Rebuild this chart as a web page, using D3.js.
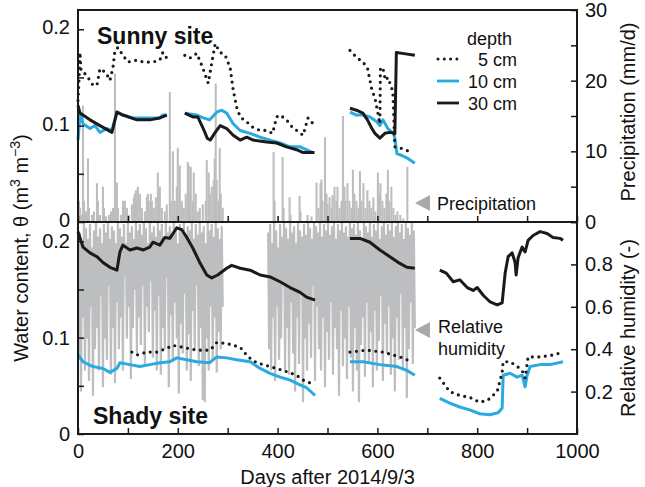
<!DOCTYPE html>
<html>
<head>
<meta charset="utf-8">
<script src="https://cdn.jsdelivr.net/npm/d3@7"></script>
<style>
  body { margin: 0; background: #fff; }
  text { font-family: "Liberation Sans", Arial, sans-serif; fill: #111; }
</style>
</head>
<body>
<svg id="chart" width="645" height="487"></svg>
<script>
// ---- data ----
// water content, [day, theta]; null = gap in record
const sunny5 = [[0,0.126],[2,0.147],[4,0.176],[6,0.157],[12,0.155],[20,0.15],[30,0.142],[38,0.142],[44,0.159],[56,0.155],[64,0.147],[70,0.16],[74,0.178],[80,0.181],[90,0.173],[100,0.166],[118,0.168],[131,0.166],[150,0.166],[164,0.168],[170,0.176],[178,0.17],null,
  [214,0.173],[224,0.17],[238,0.175],[250,0.16],[261,0.144],[268,0.165],[275,0.185],[285,0.176],[295,0.173],[305,0.16],[311,0.137],[318,0.119],[325,0.109],[338,0.104],[351,0.098],[365,0.095],[378,0.095],[390,0.092],[398,0.109],[405,0.111],[418,0.106],[430,0.098],[444,0.093],[451,0.09],[461,0.108],[471,0.102],null,
  [545,0.178],[558,0.171],[571,0.166],[580,0.16],[589,0.137],[595,0.129],[601,0.113],[605,0.102],[606,0.16],[611,0.16],[616,0.147],[621,0.15],[628,0.14],[631,0.135],[635,0.078],[645,0.077],[660,0.074],[671,0.072]];
const sunny10 = [[0,0.085],[2,0.098],[4,0.113],[10,0.102],[24,0.097],[34,0.1],[44,0.093],[58,0.097],[68,0.095],[78,0.114],[90,0.111],[110,0.108],[131,0.108],[150,0.108],[164,0.108],[170,0.111],[178,0.111],null,
  [214,0.113],[238,0.111],[251,0.108],[264,0.106],[278,0.114],[288,0.116],[298,0.113],[311,0.102],[325,0.095],[345,0.092],[365,0.088],[385,0.085],[405,0.082],[425,0.078],[445,0.078],[471,0.072],null,
  [545,0.114],[558,0.111],[571,0.111],[585,0.109],[599,0.104],[605,0.1],[611,0.106],[621,0.097],[632,0.092],[635,0.087],[639,0.071],[649,0.069],[661,0.066],[675,0.061]];
const sunny30 = [[0,0.121],[4,0.113],[24,0.106],[44,0.1],[68,0.093],[78,0.114],[90,0.111],[118,0.106],[144,0.106],[164,0.108],[178,0.111],null,
  [214,0.113],[230,0.109],[240,0.109],[251,0.097],[259,0.087],[265,0.085],[275,0.093],[285,0.1],[298,0.097],[311,0.09],[325,0.085],[338,0.088],[351,0.085],[378,0.083],[398,0.082],[418,0.078],[438,0.075],[451,0.072],[474,0.072],null,
  [545,0.118],[558,0.116],[571,0.113],[580,0.106],[589,0.097],[595,0.092],[605,0.087],[615,0.092],[625,0.093],[635,0.092],[638,0.176],[650,0.175],[675,0.173]];

const shady5 = [[108,0.085],[118,0.082],[138,0.085],[158,0.085],[178,0.089],[190,0.092],[210,0.09],[238,0.087],[264,0.087],[274,0.092],[278,0.095],[298,0.094],[325,0.09],[341,0.08],[358,0.074],[385,0.07],[411,0.066],[438,0.061],[451,0.056],[465,0.053],null,
  [545,0.085],[579,0.087],[611,0.085],[645,0.08],[669,0.075],null,
  [725,0.058],[745,0.044],[765,0.04],[785,0.038],[805,0.033],[821,0.035],[840,0.044],[850,0.064],[852,0.075],[866,0.075],[886,0.068],[892,0.064],[896,0.058],[902,0.08],[926,0.08],[952,0.082],[966,0.084]];
const shady10 = [[0,0.082],[10,0.075],[30,0.07],[50,0.068],[64,0.064],[78,0.068],[84,0.074],[104,0.072],[124,0.07],[144,0.072],[164,0.074],[184,0.075],[198,0.079],[218,0.077],[238,0.075],[264,0.074],[278,0.08],[298,0.079],[318,0.077],[345,0.075],[365,0.068],[385,0.063],[405,0.059],[425,0.056],[445,0.051],[458,0.048],[475,0.04],null,
  [545,0.075],[571,0.075],[605,0.072],[639,0.07],[659,0.066],[675,0.061],null,
  [725,0.037],[745,0.032],[765,0.028],[785,0.025],[805,0.021],[825,0.02],[842,0.022],[850,0.027],[852,0.061],[866,0.063],[880,0.059],[890,0.061],[896,0.049],[900,0.061],[906,0.07],[926,0.072],[946,0.072],[972,0.075]];
const shady30 = [[0,0.21],[10,0.194],[24,0.188],[38,0.184],[50,0.178],[64,0.173],[78,0.17],[84,0.189],[90,0.196],[104,0.191],[118,0.193],[131,0.191],[144,0.194],[150,0.199],[164,0.196],[174,0.204],[184,0.203],[198,0.214],[208,0.212],[218,0.204],[230,0.193],[244,0.178],[258,0.165],[268,0.162],[280,0.165],[298,0.172],[308,0.175],[325,0.172],[345,0.17],[365,0.165],[385,0.163],[405,0.158],[425,0.152],[445,0.147],[458,0.142],[475,0.139],null,
  [545,0.203],[565,0.203],[585,0.199],[605,0.191],[625,0.184],[645,0.177],[659,0.173],[675,0.172],null,
  [725,0.17],[738,0.167],[752,0.158],[765,0.16],[780,0.152],[792,0.149],[800,0.152],[812,0.144],[826,0.137],[840,0.134],[850,0.136],[856,0.167],[862,0.184],[870,0.188],[876,0.178],[878,0.165],[882,0.183],[890,0.194],[896,0.189],[902,0.201],[912,0.206],[926,0.21],[940,0.208],[952,0.204],[966,0.203],[972,0.201]];

// daily precipitation (mm/d), [day, mm]
const precip = [[0,4.5],[2,3],[4,2],[6,1],[10,16.5],[12,3],[16,1.5],[20,9],[22,2],[28,1],[32,1.5],[38,5.5],[40,3],[44,1],[50,5],[52,2],[56,0.8],[62,1],[66,1.5],[70,2],[74,21],[76,4],[78,5.6],[80,2],[86,1],[90,3],[92,2.5],[94,3],[98,2],[102,1],[108,2.5],[112,3.5],[114,4],[116,4.5],[118,3],[120,5],[124,4],[128,2],[134,1.5],[138,3.5],[140,4],[142,3],[146,4],[148,3],[152,2],[156,3.5],[160,7],[162,4],[164,5],[168,2],[174,1.5],[178,2.5],[184,18.4],[186,3],[190,10],[194,3],[198,5],[200,10.5],[204,8],[208,3],[212,2],[216,4],[220,8.5],[222,8],[224,4.5],[226,7.8],[230,3],[232,7],[236,4],[240,1.5],[244,2],[250,2.5],[256,3],[258,8.8],[262,7],[264,4],[268,5],[272,6],[274,9],[276,19.6],[278,6],[282,3],[284,10.5],[286,4],[290,2],
  [392,9.9],[394,3],[410,9.2],[412,2],[424,3.5],[426,1],[444,3.7],[446,1.5],[460,1],[468,0.8],
  [478,5.6],[482,2],[486,5.5],[488,6],[490,3],[495,12],[498,4],[500,2.5],[504,3.5],[508,2],[510,3.8],[514,5],[518,3],[520,5],[524,2],[528,3],[531,15],[534,5],[536,3],[540,5.5],[544,3],[548,2],[551,7.4],[554,4],[558,3],[562,2],[565,7.2],[568,3],[572,5.5],[576,2],[580,4.5],[584,3],[588,2],[592,3.5],[596,1.5],[601,7],[604,4],[606,5.5],[610,3],[614,2],[618,4],[621,7.4],[624,3],[628,5],[632,2],[636,1],[640,1.5],[646,1],[652,0.5],[660,7.8]];

// relative humidity (-), every 2nd day from the start day of each record block
const rhStartA = 0;
const rhA = [0.98,0.35,0.95,0.2,0.9,0.55,1.0,0.3,0.97,0.45,0.92,0.25,0.99,0.6,0.88,0.18,0.96,0.4,1.0,0.5,0.93,
  0.3,0.97,0.65,0.9,0.22,0.99,0.45,0.95,0.35,1.0,0.7,0.92,0.28,0.98,0.5,0.96,0.24,0.9,0.62,1.0,
  0.4,0.97,0.55,0.93,0.3,0.99,0.75,0.9,0.45,1.0,0.6,0.95,0.26,0.98,0.5,0.92,0.68,1.0,0.38,0.96,
  0.55,0.99,0.42,0.94,0.7,1.0,0.33,0.97,0.6,0.9,0.48,1.0,0.72,0.95,0.36,0.98,0.58,0.93,0.3,1.0,
  0.65,0.96,0.28,0.99,0.5,0.92,0.4,1.0,0.74,0.95,0.22,0.98,0.56,0.94,0.34,1.0,0.62,0.97,0.45,0.9,
  0.19,0.99,0.52,0.95,0.38,1.0,0.66,0.93,0.3,0.98,0.47,0.96,0.25,1.0,0.58,0.92,0.4,0.99,0.7,0.94,
  0.32,1.0,0.5,0.95,0.16,0.98,0.15,0.9,0.45,1.0,0.3,0.96,0.6,0.99,0.35,0.93,0.55,1.0,0.29,0.97,0.48,0.92,0.4,0.98,0.6];
const rhStartB = 381;
const rhB = [0.95,0.4,0.99,0.3,0.9,0.55,1.0,0.25,0.96,0.6,0.88,0.35,0.99,0.45,0.93,0.7,1.0,0.3,0.97,0.5,
  0.92,0.28,1.0,0.62,0.95,0.38,0.98,0.2,0.9,0.55,1.0,0.33,0.96,0.66,0.93,0.15,0.99,0.45,0.94,0.3,
  1.0,0.52,0.97,0.36,0.92,0.7,1.0,0.25,0.98,0.6,0.95,0.4,1.0,0.3,0.93,0.55,0.99,0.22,0.96,0.48,
  1.0,0.35,0.94,0.62,0.98,0.28,1.0,0.5,0.92,0.4,0.99,0.18,0.96,0.58,1.0,0.32,0.95,0.45,0.98,0.26,
  0.93,0.6,1.0,0.36,0.97,0.2,0.99,0.5,0.94,0.3,1.0,0.15,0.96,0.42,0.92,0.55,1.0,0.27,0.98,0.62,
  0.95,0.34,1.0,0.48,0.93,0.22,0.99,0.58,0.96,0.3,1.0,0.44,0.92,0.65,0.98,0.25,1.0,0.52,0.94,0.38,
  0.99,0.6,0.96,0.28,1.0,0.45,0.93,0.2,0.98,0.55,1.0,0.35,0.95,0.66,0.99,0.3,0.92,0.5,1.0,0.17,0.97,0.4,0.94,0.62,1.0,0.33,0.96,0.5];

const dayTicks = [0,100,200,300,400,500,600,700,800,900,1000];
const dayLabels = [0,200,400,600,800,1000];
const thetaTicks = [0,0.05,0.1,0.15,0.2];
const thetaLabels = [0,0.1,0.2];
const precipTicks = [0,5,10,15,20,25,30];
const precipLabels = [0,10,20,30];
const rhTicks = [0.2,0.4,0.6,0.8,1.0];
const rhLabels = [0.2,0.4,0.6,0.8];
const depths = ["5 cm","10 cm","30 cm"];

// ---- layout ----
const svg = d3.select("#chart");
const plotL = 78, plotR = 577, plotT = 10, plotM = 222, plotB = 434;
const gray = "#bdbec0", blue = "#29aae1", black = "#1a1a1a";

const x = d3.scaleLinear().domain([0,1000]).range([plotL,plotR]);
const yTop = d3.scaleLinear().domain([0,0.22]).range([plotM,plotT]);
const yBot = d3.scaleLinear().domain([0,0.22]).range([plotB,plotM]);
const yPrec = d3.scaleLinear().domain([0,30]).range([plotM,plotT]);
const yRH = d3.scaleLinear().domain([0,1]).range([plotB,plotM]);

// precipitation bars
svg.append("g").selectAll("line").data(precip).join("line")
  .attr("x1", d => x(d[0])).attr("x2", d => x(d[0]))
  .attr("y1", yPrec(0)).attr("y2", d => yPrec(d[1]))
  .attr("stroke", gray).attr("stroke-width", 2.1);

// relative humidity trace
const rhLine = d3.line().x(d => x(d[0])).y(d => yRH(d[1]));
[[rhStartA, rhA],[rhStartB, rhB]].forEach(([s, vals]) => {
  svg.append("path")
    .datum(vals.map((v,i) => [s + i*2, v]))
    .attr("d", rhLine)
    .attr("fill", "none").attr("stroke", gray).attr("stroke-width", 2.2);
});

// water content lines
function drawTheta(data, y, style) {
  const line = d3.line().defined(d => d !== null).x(d => x(d[0])).y(d => y(d[1]));
  const p = svg.append("path").datum(data).attr("d", line).attr("fill", "none");
  if (style === 5) {
    p.attr("stroke", black).attr("stroke-width", 3.2).attr("stroke-linecap", "round")
     .attr("stroke-dasharray", "0,6.5");
  } else {
    p.attr("stroke", style === 10 ? blue : black).attr("stroke-width", 3)
     .attr("stroke-linejoin", "round");
  }
}
drawTheta(sunny10, yTop, 10);
drawTheta(sunny30, yTop, 30);
drawTheta(sunny5, yTop, 5);
drawTheta(shady10, yBot, 10);
drawTheta(shady30, yBot, 30);
drawTheta(shady5, yBot, 5);

// frame
svg.append("rect").attr("x", plotL).attr("y", plotT).attr("width", plotR-plotL).attr("height", plotB-plotT)
  .attr("fill", "none").attr("stroke", black).attr("stroke-width", 2);
svg.append("line").attr("x1", plotL).attr("x2", plotR).attr("y1", plotM).attr("y2", plotM)
  .attr("stroke", black).attr("stroke-width", 2);

// axes
function styleAxis(g) {
  g.select(".domain").remove();
  g.selectAll(".tick line").attr("stroke", black).attr("stroke-width", 1.5);
  g.selectAll(".tick text").style("font-size", "20px").attr("fill", "#111");
}
const fmt = labels => d => labels.includes(d) ? (d === 0 ? "0" : String(+d.toFixed(1))) : "";

svg.append("g").attr("transform", `translate(0,${plotM})`)
  .call(d3.axisBottom(x).tickValues(dayTicks).tickSize(-6).tickFormat(""))
  .call(styleAxis);
svg.append("g").attr("transform", `translate(0,${plotB})`)
  .call(d3.axisBottom(x).tickValues(dayTicks).tickSize(-6).tickPadding(10).tickFormat(fmt(dayLabels)))
  .call(styleAxis);

svg.append("g").attr("transform", `translate(${plotL},-2)`)
  .call(d3.axisLeft(yTop).tickValues(thetaTicks).tickSize(-6).tickPadding(8).tickFormat(fmt(thetaLabels)))
  .call(styleAxis)
  .call(g => g.selectAll(".tick line").attr("transform", "translate(0,2)"));
svg.append("g").attr("transform", `translate(${plotL},0)`)
  .call(d3.axisLeft(yBot).tickValues(thetaTicks).tickSize(-6).tickPadding(8).tickFormat(fmt(thetaLabels)))
  .call(styleAxis);

svg.append("g").attr("transform", `translate(${plotR},0)`)
  .call(d3.axisRight(yPrec).tickValues(precipTicks).tickSize(-6).tickPadding(8).tickFormat(fmt(precipLabels)))
  .call(styleAxis);
svg.append("g").attr("transform", `translate(${plotR},0)`)
  .call(d3.axisRight(yRH).tickValues(rhTicks).tickSize(-6).tickPadding(8).tickFormat(fmt(rhLabels)))
  .call(styleAxis);

// axis titles
svg.append("text").attr("x", (plotL+plotR)/2).attr("y", 484).attr("text-anchor", "middle")
  .style("font-size", "20px").text("Days after 2014/9/3");

const yl = svg.append("text").attr("transform", "translate(28,248) rotate(-90)")
  .attr("text-anchor", "middle").style("font-size", "20px");
yl.append("tspan").text("Water content, θ (m");
yl.append("tspan").attr("dy", -8).style("font-size", "14px").text("3");
yl.append("tspan").attr("dy", 8).text(" m");
yl.append("tspan").attr("dy", -8).style("font-size", "14px").text("−3");
yl.append("tspan").attr("dy", 8).text(")");

svg.append("text").attr("transform", "translate(635,112) rotate(-90)")
  .attr("text-anchor", "middle").style("font-size", "20px").text("Precipitation (mm/d)");
svg.append("text").attr("transform", "translate(635,328) rotate(-90)")
  .attr("text-anchor", "middle").style("font-size", "20px").text("Relative humidity (-)");

// panel titles
svg.append("text").attr("x", 97).attr("y", 44).style("font-size", "23px").style("font-weight", "bold").text("Sunny site");
svg.append("text").attr("x", 93).attr("y", 424).style("font-size", "23px").style("font-weight", "bold").text("Shady site");

// legend
svg.append("text").attr("x", 512).attr("y", 45).attr("text-anchor", "end").style("font-size", "18px").text("depth");
depths.forEach((d, i) => {
  const yy = 59 + i * 22;
  const l = svg.append("line").attr("x1", 437).attr("x2", 459).attr("y1", yy).attr("y2", yy);
  if (i === 0) {
    l.attr("x1", 438).attr("x2", 457).attr("stroke", black).attr("stroke-width", 3).attr("stroke-linecap", "round").attr("stroke-dasharray", "0,6.3");
  } else {
    l.attr("stroke", i === 1 ? blue : black).attr("stroke-width", 2.8);
  }
  svg.append("text").attr("x", 517).attr("y", yy + 7).attr("text-anchor", "end").style("font-size", "18px").text(d);
});

// annotations
svg.append("path").attr("d", "M415,203 L430,195 L430,211 Z").attr("fill", "#a8a9ab");
svg.append("text").attr("x", 437).attr("y", 210).style("font-size", "18px").text("Precipitation");
svg.append("path").attr("d", "M415,330 L430,322 L430,338 Z").attr("fill", "#a8a9ab");
svg.append("text").attr("x", 438).attr("y", 333).style("font-size", "18px").text("Relative");
svg.append("text").attr("x", 438).attr("y", 355).style("font-size", "18px").text("humidity");
</script>
</body>
</html>
